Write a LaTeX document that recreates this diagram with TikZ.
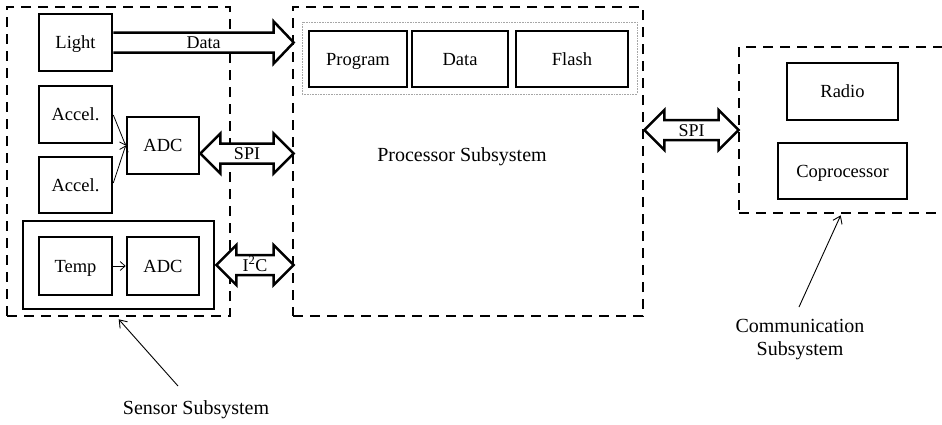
\documentclass[tikz,border=0pt]{standalone}
\usepackage{fontspec}
\setmainfont{Liberation Serif}
\usetikzlibrary{calc,arrows.meta}
\tikzset{
  box/.style={draw, line width=2.6pt, fill=white, font=\fontsize{18.5}{21}\selectfont, inner sep=0pt, text height=12.5pt, text depth=0pt},
  subsys/.style={draw, line width=2.6pt, dash pattern=on 10pt off 7pt, inner sep=0pt},
  membox/.style={draw=gray!70, line width=0.6pt, densely dotted, inner sep=0pt},
  fat/.style={draw, line width=2.5pt, line join=miter, fill=white},
  thinarr/.style={line width=0.8pt, -{Straight Barb[length=5pt,width=9pt]}},
  pointer/.style={line width=0.9pt, -{Straight Barb[length=7pt,width=10pt]}},
  lbl/.style={font=\fontsize{18}{21}\selectfont, inner sep=0pt, text height=12.5pt, text depth=0pt},
  biglbl/.style={font=\fontsize{20}{24}\selectfont, inner sep=0pt, align=center},
}
\newcommand\fatdouble[2]{%
  \draw[fat] (#1) -- ($(#1)+(20,-20)$) -- ($(#1)+(20,-10)$) -- ($(#2)+(-20,-10)$)
    -- ($(#2)+(-20,-20)$) -- (#2) -- ($(#2)+(-20,20)$) -- ($(#2)+(-20,10)$)
    -- ($(#1)+(20,10)$) -- ($(#1)+(20,20)$) -- cycle;}
\begin{document}
\begin{tikzpicture}[x=1pt,y=-1pt]
\useasboundingbox (0,0) rectangle (942,424);
% subsystem frames
\node[subsys, minimum width=223pt, minimum height=309pt] (sens) at (118.5,161.5) {};
\node[subsys, minimum width=350pt, minimum height=309pt] (proc) at (468,161.5) {};
\node[subsys, minimum width=240pt, minimum height=166pt] (comm) at (859,130) {};
\node[membox, minimum width=335pt, minimum height=72pt] (mem) at (469.5,58) {};
% sensor boxes
\node[box, minimum width=73pt, minimum height=57pt] (light) at (75.5,42.5) {Light};
\node[box, minimum width=73pt, minimum height=57pt] (acc1) at (75.5,114.5) {Accel.};
\node[box, minimum width=73pt, minimum height=56pt] (acc2) at (75.5,185) {Accel.};
\node[box, minimum width=72pt, minimum height=57pt] (adc1) at (163,145.5) {ADC};
\node[box, minimum width=191pt, minimum height=88pt] (tgrp) at (118.5,265) {};
\node[box, minimum width=73pt, minimum height=58pt] (temp) at (75.5,266) {Temp};
\node[box, minimum width=72pt, minimum height=58pt] (adc2) at (163,266) {ADC};
% processor memories
\node[box, minimum width=98pt, minimum height=56pt] (prog) at (358,59) {Program};
\node[box, minimum width=96pt, minimum height=56pt] (data) at (460,59) {Data};
\node[box, minimum width=112pt, minimum height=56pt] (flash) at (572,59) {Flash};
\node[biglbl] (proclbl) at (462,157) {Processor Subsystem};
% communication
\node[box, minimum width=111pt, minimum height=57pt] (radio) at (842.5,91.5) {Radio};
\node[box, minimum width=129pt, minimum height=56pt] (copro) at (842.5,171) {Coprocessor};
% thin arrows
\draw[thinarr] ($(acc1.east)+(0,0.5)$) -- (adc1.west);
\draw[thinarr] ($(acc2.east)+(0,-2)$) -- (adc1.west);
\draw[thinarr] (temp.east) -- (adc2.west);
% Data fat arrow
\coordinate (dA) at (light.east);
\coordinate (dB) at ($(proc.west |- light.east)+(2,0)$);
\draw[fat] ($(dA)+(0,-10)$) -- ($(dB)+(-20,-10)$) -- ($(dB)+(-20,-21)$) -- (dB)
  -- ($(dB)+(-20,21)$) -- ($(dB)+(-20,10)$) -- ($(dA)+(0,10)$);
\node[lbl] at ($(dA)!0.5!(dB)+(0,0)$) {Data};
% SPI sensor
\coordinate (sA) at ($(adc1.east)+(0,8)$);
\coordinate (sB) at ($(proc.west |- sA)+(2,0)$);
\fatdouble{sA}{sB}
\node[lbl] at ($(sA)!0.5!(sB)+(0,0)$) {SPI};
% I2C
\coordinate (iA) at ($(tgrp.east)+(1,0)$);
\coordinate (iB) at ($(proc.west |- tgrp.east)+(2,0)$);
\fatdouble{iA}{iB}
\node[lbl] at ($(iA)!0.5!(iB)+(0,0)$) {I\textsuperscript{2}C};
% SPI comm
\coordinate (cA) at ($(proc.east |- 0,130)$);
\coordinate (cB) at ($(comm.west |- 0,130)+(1,0)$);
\fatdouble{cA}{cB}
\node[lbl] at ($(cA)!0.5!(cB)+(0,0)$) {SPI};
% labels with pointers
\node[biglbl] (senslbl) at (196,410) {Sensor Subsystem};
\coordinate (sensTail) at (178,386);
\draw[pointer] (sensTail) -- ($(sens.south west)+(113,2)$);
\node[biglbl] (commlbl) at (800,340) {Communication\\[-1pt]Subsystem};
\coordinate (commTail) at (799,307);
\draw[pointer] (commTail) -- ($(comm.south west)+(103,1)$);
\end{tikzpicture}
\end{document}
